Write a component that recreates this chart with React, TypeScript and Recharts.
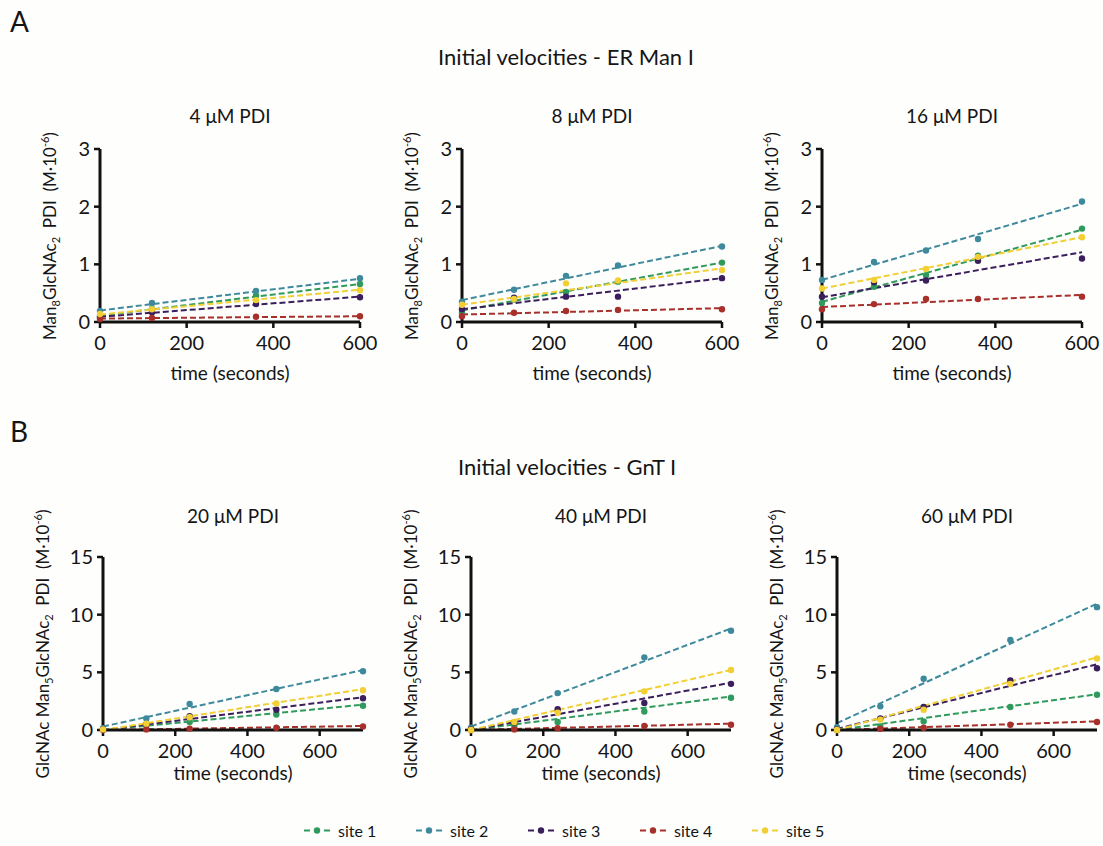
import React from "react";
import { ComposedChart, Line, Scatter, XAxis, YAxis } from "recharts";

const FONT = "Lato, 'Open Sans', sans-serif";

const sites = ["site 1", "site 2", "site 3", "site 4", "site 5"];
const siteColors = ["#2f9a5c", "#3e8a9c", "#3a1f5c", "#a8302b", "#f1cf35"];

// time points (seconds)
const timesA1 = [0, 120, 360, 600];
const timesA = [0, 120, 240, 360, 600];
const timesB = [0, 120, 240, 480, 720];

const xTicks = [0, 200, 400, 600];
const yTicksA = [0, 1, 2, 3];
const yTicksB = [0, 5, 10, 15];

// measured points, one row per site (site 1..5)
const pdi4 = [
  [0.1, 0.23, 0.46, 0.66],
  [0.19, 0.33, 0.54, 0.76],
  [0.08, 0.17, 0.31, 0.43],
  [0.05, 0.07, 0.09, 0.1],
  [0.14, 0.22, 0.38, 0.55],
];
const pdi8 = [
  [0.16, 0.39, 0.52, 0.7, 1.03],
  [0.35, 0.56, 0.8, 0.98, 1.31],
  [0.22, 0.42, 0.44, 0.44, 0.76],
  [0.1, 0.16, 0.19, 0.21, 0.22],
  [0.3, 0.4, 0.67, 0.72, 0.9],
];
const pdi16 = [
  [0.33, 0.61, 0.81, 1.15, 1.62],
  [0.73, 1.04, 1.24, 1.44, 2.09],
  [0.44, 0.69, 0.72, 1.06, 1.1],
  [0.22, 0.31, 0.4, 0.4, 0.44],
  [0.58, 0.73, 0.92, 1.13, 1.47],
];
const pdi20 = [
  [0.05, 0.4, 0.7, 1.35, 2.1],
  [0.15, 1.0, 2.25, 3.55, 5.1],
  [0.05, 0.5, 1.2, 1.75, 2.75],
  [0.0, 0.05, 0.12, 0.2, 0.3],
  [0.05, 0.55, 1.1, 2.3, 3.45],
];
const pdi40 = [
  [0.05, 0.3, 0.7, 1.6, 2.8],
  [0.2, 1.6, 3.2, 6.3, 8.6],
  [0.05, 0.65, 1.8, 2.35, 4.0],
  [0.0, 0.05, 0.15, 0.35, 0.45],
  [0.0, 0.7, 1.5, 3.35, 5.2],
];
const pdi60 = [
  [0.05, 0.3, 0.75, 2.0, 3.05],
  [0.25, 2.05, 4.45, 7.8, 10.65],
  [0.05, 1.0, 2.0, 4.3, 5.35],
  [0.0, 0.1, 0.2, 0.45, 0.7],
  [0.0, 0.9, 1.75, 4.0, 6.2],
];

// dashed fit lines: [value at t=0, value at end of axis]
const fit4 = [[0.11, 0.66], [0.2, 0.75], [0.09, 0.44], [0.06, 0.1], [0.13, 0.56]];
const fit8 = [[0.2, 1.03], [0.38, 1.32], [0.22, 0.76], [0.13, 0.24], [0.3, 0.93]];
const fit16 = [[0.35, 1.6], [0.73, 2.05], [0.43, 1.21], [0.26, 0.47], [0.58, 1.47]];
const fit20 = [[0.0, 2.2], [0.3, 5.2], [0.0, 2.85], [0.0, 0.35], [0.0, 3.55]];
const fit40 = [[0.0, 2.9], [0.3, 8.8], [0.0, 4.1], [0.0, 0.55], [0.0, 5.2]];
const fit60 = [[0.0, 3.1], [0.6, 10.95], [0.1, 5.7], [0.0, 0.75], [0.0, 6.3]];

const PLOT_W = 260;
const PLOT_H = 173;
const ML = 90;
const MT = 50;
const MR = 20;
const MB = 40;

const panels = [
  { title: "4 μM PDI", times: timesA1, values: pdi4, fits: fit4, xMax: 600, yMax: 3, yTicks: yTicksA, left: 100, top: 149, row: "A" },
  { title: "8 μM PDI", times: timesA, values: pdi8, fits: fit8, xMax: 600, yMax: 3, yTicks: yTicksA, left: 462, top: 149, row: "A" },
  { title: "16 μM PDI", times: timesA, values: pdi16, fits: fit16, xMax: 600, yMax: 3, yTicks: yTicksA, left: 822, top: 149, row: "A" },
  { title: "20 μM PDI", times: timesB, values: pdi20, fits: fit20, xMax: 720, yMax: 15, yTicks: yTicksB, left: 103, top: 557, row: "B" },
  { title: "40 μM PDI", times: timesB, values: pdi40, fits: fit40, xMax: 720, yMax: 15, yTicks: yTicksB, left: 471, top: 557, row: "B" },
  { title: "60 μM PDI", times: timesB, values: pdi60, fits: fit60, xMax: 720, yMax: 15, yTicks: yTicksB, left: 837, top: 557, row: "B" },
];

const subStyle: React.CSSProperties = { fontSize: 11, verticalAlign: -4, lineHeight: 0 };
const supStyle: React.CSSProperties = { fontSize: 11, verticalAlign: 7, lineHeight: 0 };

function YLabel({ row }: { row: string }) {
  if (row === "A") {
    return (
      <span>
        Man<span style={subStyle}>8</span>GlcNAc<span style={subStyle}>2</span>&nbsp; PDI &nbsp;(M·10<span style={supStyle}>-6</span>)
      </span>
    );
  }
  return (
    <span>
      GlcNAc Man<span style={subStyle}>5</span>GlcNAc<span style={subStyle}>2</span>&nbsp; PDI &nbsp;(M·10<span style={supStyle}>-6</span>)
    </span>
  );
}

function Panel({ p }: { p: (typeof panels)[number] }) {
  const tickStyle = { fontSize: 20, fill: "#151515", fontFamily: FONT };
  const titleDy = p.row === "A" ? -34 : -42;
  const xLabelDy = p.row === "A" ? 50 : 42;
  const yLabelDx = p.row === "A" ? 51 : 61;
  return (
    <>
      <div style={{ position: "absolute", left: p.left + PLOT_W / 2, top: p.top + titleDy, transform: "translate(-50%, -50%)", fontSize: 19, whiteSpace: "nowrap" }}>
        {p.title}
      </div>
      <div style={{ position: "absolute", left: p.left + PLOT_W / 2, top: p.top + PLOT_H + xLabelDy, transform: "translate(-50%, -50%)", fontSize: 19, whiteSpace: "nowrap" }}>
        time (seconds)
      </div>
      <div style={{ position: "absolute", left: p.left - yLabelDx, top: p.top + PLOT_H / 2, transform: "translate(-50%, -50%) rotate(-90deg)", fontSize: 17, lineHeight: 1, whiteSpace: "nowrap" }}>
        <YLabel row={p.row} />
      </div>
      <div style={{ position: "absolute", left: p.left - ML, top: p.top - MT }}>
        <ComposedChart width={ML + PLOT_W + MR} height={MT + PLOT_H + MB} margin={{ top: MT, right: MR, bottom: MB - 30, left: ML - 40 }}>
          <XAxis
            type="number"
            dataKey="t"
            domain={[0, p.xMax]}
            ticks={xTicks}
            interval={0}
            height={30}
            axisLine={{ stroke: "#111", strokeWidth: 3 }}
            tickLine={{ stroke: "#111", strokeWidth: 2.5 }}
            tickSize={6}
            tickMargin={8}
            tick={tickStyle}
          />
          <YAxis
            type="number"
            domain={[0, p.yMax]}
            ticks={p.yTicks}
            interval={0}
            width={40}
            axisLine={{ stroke: "#111", strokeWidth: 3 }}
            tickLine={{ stroke: "#111", strokeWidth: 2.5 }}
            tickSize={6}
            tickMargin={4}
            tick={tickStyle}
          />
          {sites.map((s, i) => (
            <Line
              key={"fit-" + s}
              data={[
                { t: 0, v: p.fits[i][0] },
                { t: p.xMax, v: p.fits[i][1] },
              ]}
              dataKey="v"
              stroke={siteColors[i]}
              strokeWidth={2}
              strokeDasharray="6 3"
              dot={false}
              isAnimationActive={false}
            />
          ))}
          {sites.map((s, i) => (
            <Scatter
              key={"pts-" + s}
              data={p.times.map((t, j) => ({ t, v: p.values[i][j] }))}
              dataKey="v"
              fill={siteColors[i]}
              isAnimationActive={false}
              shape={(props: any) => <circle cx={props.cx} cy={props.cy} r={3.2} fill={siteColors[i]} />}
            />
          ))}
        </ComposedChart>
      </div>
    </>
  );
}

function LegendIcon({ color }: { color: string }) {
  return (
    <svg width={29} height={12} style={{ display: "block" }}>
      <line x1={1} y1={6} x2={28} y2={6} stroke={color} strokeWidth={2} strokeDasharray="6 4" />
      <circle cx={14} cy={6} r={3.2} fill={color} />
    </svg>
  );
}

export default function App() {
  return (
    <div style={{ position: "fixed", left: 0, top: 0, width: 1103, height: 846, background: "#fefefd", fontFamily: FONT, color: "#151515", overflow: "hidden" }}>
      <div style={{ position: "absolute", left: 10, top: 4, fontSize: 28 }}>A</div>
      <div style={{ position: "absolute", left: 10, top: 414, fontSize: 28 }}>B</div>
      <div style={{ position: "absolute", left: 566, top: 56, transform: "translate(-50%, -50%)", fontSize: 22, whiteSpace: "nowrap" }}>
        Initial velocities - ER Man I
      </div>
      <div style={{ position: "absolute", left: 567, top: 466, transform: "translate(-50%, -50%)", fontSize: 22, whiteSpace: "nowrap" }}>
        Initial velocities - GnT I
      </div>
      {panels.map((p) => (
        <Panel key={p.title} p={p} />
      ))}
      <div style={{ position: "absolute", left: 303, top: 830, transform: "translateY(-50%)", display: "flex", alignItems: "center", fontSize: 16 }}>
        {sites.map((s, i) => (
          <div key={s} style={{ display: "flex", alignItems: "center", width: 112 }}>
            <LegendIcon color={siteColors[i]} />
            <span style={{ marginLeft: 6 }}>{s}</span>
          </div>
        ))}
      </div>
    </div>
  );
}
